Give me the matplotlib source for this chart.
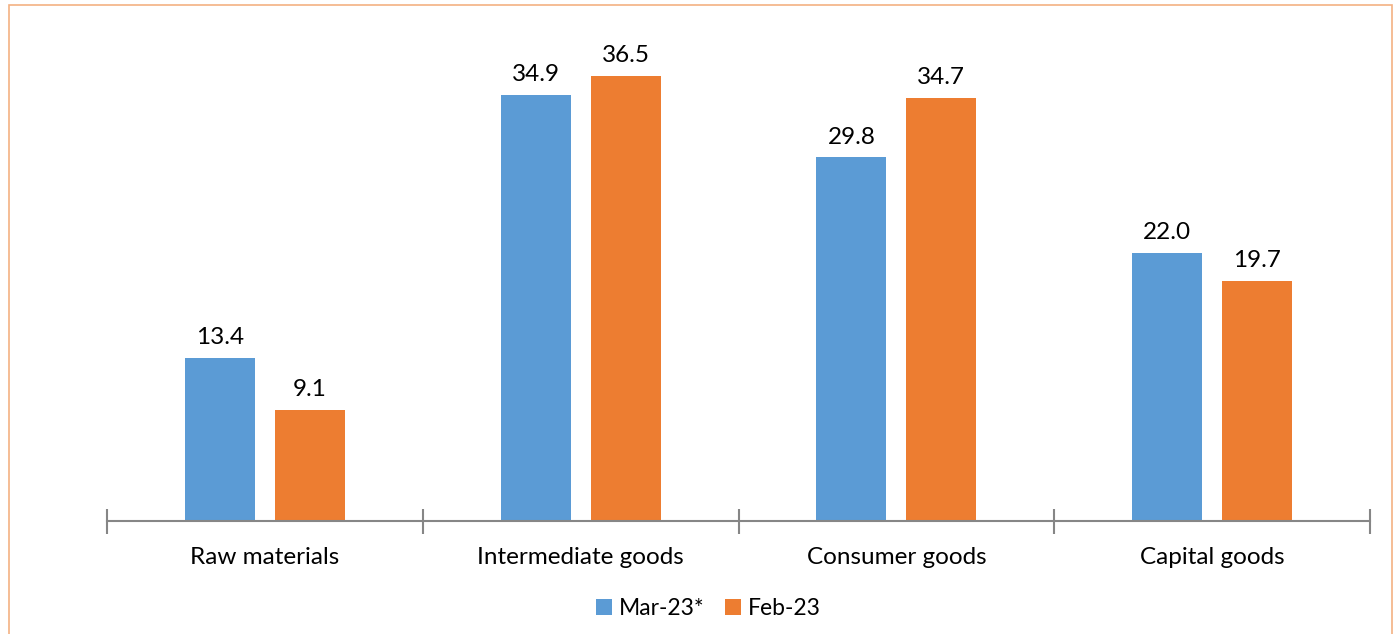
import matplotlib
matplotlib.use("Agg")
import matplotlib.pyplot as plt
import numpy as np
from matplotlib.patches import Rectangle

categories = ["Raw materials", "Intermediate goods", "Consumer goods", "Capital goods"]
series_names = ["Mar-23*", "Feb-23"]
mar23 = [13.4, 34.9, 29.8, 22.0]
feb23 = [9.1, 36.5, 34.7, 19.7]

BLUE = "#5B9BD5"
ORANGE = "#ED7D31"
AXIS_GRAY = "#868686"

plt.rcParams['font.family'] = ['Lato', 'DejaVu Sans']

fig = plt.figure(figsize=(13.96, 6.34), dpi=100)
fig.patch.set_facecolor("white")

# outer orange frame
fig.patches.append(Rectangle((9/1396, -0.01), (1392-9)/1396, (634-5)/634 + 0.01,
                             transform=fig.transFigure, fill=False,
                             edgecolor="#F4B183", linewidth=1.2))

ax = fig.add_axes([107/1396, (634-521)/634, (1370-107)/1396, (521-33)/634])
x = np.arange(len(categories))
w = 0.222
off = 0.1425
b1 = ax.bar(x - off, mar23, w, color=BLUE, label=series_names[0])
b2 = ax.bar(x + off, feb23, w, color=ORANGE, label=series_names[1])

for bars, vals in ((b1, mar23), (b2, feb23)):
    for r, v in zip(bars, vals):
        ax.annotate(f"{v:.1f}", (r.get_x() + r.get_width()/2, v),
                    xytext=(0, 7), textcoords="offset points",
                    ha="center", va="bottom", fontsize=17.5, color="black")

ax.set_xlim(-0.5, 3.5)
ax.set_ylim(0, 40)
for s in ("top", "right", "left"):
    ax.spines[s].set_visible(False)
ax.spines["bottom"].set_color(AXIS_GRAY)
ax.spines["bottom"].set_linewidth(1.5)
ax.set_yticks([])
ax.set_xticks(np.arange(-0.5, 3.6, 1.0))
ax.set_xticklabels([])
ax.tick_params(axis="x", which="major", direction="inout", length=18,
               width=1.5, color=AXIS_GRAY)
ax.set_xticks(x, minor=True)
ax.set_xticklabels(categories, minor=True, fontsize=17.5)
ax.tick_params(axis="x", which="minor", length=0, pad=19)

ax.legend(loc="upper center", bbox_to_anchor=(0.476, -0.115), ncol=2, frameon=False,
          fontsize=16.5, handlelength=0.7, handleheight=0.7, handletextpad=0.3,
          columnspacing=0.9)

fig.savefig("out.png", dpi=100, facecolor="white")
